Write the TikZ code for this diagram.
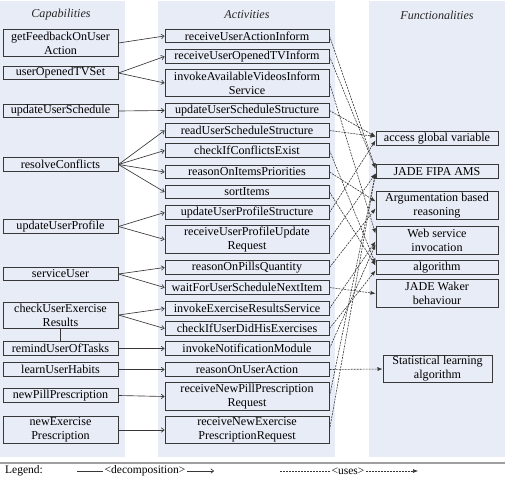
\documentclass[tikz,border=0pt]{standalone}
\usepackage{fontspec}
\setmainfont{Liberation Serif}
\usetikzlibrary{
	arrows.meta,
	positioning,
}
\definecolor{panel}{RGB}{232,236,246}
\definecolor{boxline}{RGB}{55,55,55}
\tikzset{default box/.style={
	draw=boxline,
	fill=panel,
	line width=1pt,
	inner sep=0pt,
	align=center,
	minimum height=13.5pt,
	font=\fontsize{12.1}{14}\selectfont,
	text=black,
}}

\begin{document}
\begin{tikzpicture}[
x=1pt, y=-1pt,
decomp/.style={draw=boxline, line width=0.65pt, -{To[length=3.5pt,width=5pt]}},
uses/.style={draw=boxline, line width=0.6pt, dash pattern=on 2pt off 1pt, -{Latex[length=5pt,width=4pt]}},
]
\useasboundingbox (0,0) rectangle (505,478);

\tikzset{
	capbox/.style={default box, minimum width=115pt},
	actbox/.style={default box, minimum width=164pt},
	funbox/.style={default box, minimum width=122pt},
	two/.style={minimum height=27.5pt},
	title/.style={font=\fontsize{12.1}{14}\selectfont\itshape, text=black!85},
	legend text/.style={font=\fontsize{11.5}{14}\selectfont, inner sep=1pt},
}

% column panels
\fill[panel] (0,1) rectangle (125,457);
\fill[panel] (158,1) rectangle (335,457);
\fill[panel] (369,1) rectangle (505,457);

\node(tcap)[title] at(61,15)	{Capabilities};
\node(tact)[title] at(247,15)	{Activities};
\node(tfun)[title] at(437,15)	{Functionalities};

\begin{scope}[every node/.style={capbox}]
\node(gf)[two]	at(60.5,43)		{getFeedbackOnUser\\Action};
\node(uotv)		at(60.5,73)		{userOpenedTVSet};
\node(uus)		at(60.5,111)	{updateUserSchedule};
\node(rc)		at(60.5,164.5)	{resolveConflicts};
\node(uup)		at(60.5,226.5)	{updateUserProfile};
\node(su)		at(60.5,274)	{serviceUser};
\node(cuer)[minimum height=26pt] at(60.5,315) {checkUserExercise\\Results};
\node(rmt)		at(60.5,348.5)	{remindUserOfTasks};
\node(luh)		at(60.5,369.5)	{learnUserHabits};
\node(npp)		at(60.5,395.5)	{newPillPrescription};
\node(nep)[two]	at(60.5,430)	{newExercise\\Prescription};
\end{scope}

\begin{scope}[every node/.style={actbox}]
\node(ruai)		at(247,36)		{receiveUserActionInform};
\node(ruotv)	at(247,56.5)	{receiveUserOpenedTVInform};
\node(iavis)[two] at(247,83)	{invokeAvailableVideosInform\\Service};
\node(uuss)		at(247,110.5)	{updateUserScheduleStructure};
\node(russ)		at(247,130.5)	{readUserScheduleStructure};
\node(cice)		at(247,150.5)	{checkIfConflictsExist};
\node(roip)		at(247,172)		{reasonOnItemsPriorities};
\node(si)		at(247,192)		{sortItems};
\node(upps)		at(247,212.5)	{updateUserProfileStructure};
\node(rupur)[two] at(247,239.5)	{receiveUserProfileUpdate\\Request};
\node(ropq)		at(247,267.5)	{reasonOnPillsQuantity};
\node(wfusni)	at(247,287.5)	{waitForUserScheduleNextItem};
\node(iers)		at(247,308.5)	{invokeExerciseResultsService};
\node(ciudhe)	at(247,328.5)	{checkIfUserDidHisExercises};
\node(inm)		at(247,348.5)	{invokeNotificationModule};
\node(roua)		at(247,369.5)	{reasonOnUserAction};
\node(rnppr)[two] at(247,396.5)	{receiveNewPillPrescription\\Request};
\node(rnepr)[two] at(247,430)	{receiveNewExercise\\PrescriptionRequest};
\end{scope}

\begin{scope}[every node/.style={funbox}]
\node(agv)		at(437,138.5)	{access global variable};
\node(jfa)		at(437,171.5)	{JADE FIPA AMS};
\node(abr)[two]	at(437,205.5)	{Argumentation based\\reasoning};
\node(wsi)[two]	at(437,240.5)	{Web service\\invocation};
\node(alg)		at(437,267.5)	{algorithm};
\node(jwb)[two]	at(437,293.5)	{JADE Waker\\behaviour};
\node(sla)[two, minimum width=109pt] at(437.5,369) {Statistical learning\\algorithm};
\end{scope}

% decomposition
\begin{scope}[decomp]
\draw (gf.east) to (ruai.west);
\draw (uotv.east) to (ruotv.west);
\draw (uotv.east) to (iavis.west);
\draw (uus.east) to (uuss.west);
\draw (rc.east) to (russ.west);
\draw (rc.east) to (cice.west);
\draw (rc.east) to (roip.west);
\draw (rc.east) to (si.west);
\draw (uup.east) to (upps.west);
\draw (uup.east) to (rupur.west);
\draw (su.east) to (ropq.west);
\draw (su.east) to (wfusni.west);
\draw (cuer.east) to (iers.west);
\draw (cuer.east) to (ciudhe.west);
\draw (rmt.east) to (inm.west);
\draw (luh.east) to (roua.west);
\draw (npp.east) to (rnppr.west);
\draw (nep.east) to (rnepr.west);
\end{scope}
\draw[boxline, line width=0.65pt] (cuer) -- (rmt);

% uses
\begin{scope}[uses]
\draw (ruai.east) to ([yshift=3pt]jfa.west);
\draw (ruotv.east) to ([yshift=3pt]jfa.west);
\draw (iavis.east) to ([yshift=7pt]wsi.west);
\draw (uuss.east) to ([yshift=2pt]agv.west);
\draw (russ.east) to ([yshift=2pt]agv.west);
\draw (cice.east) to ([yshift=4pt]alg.west);
\draw (roip.east) to ([yshift=4pt]abr.west);
\draw (si.east) to ([yshift=2pt]alg.west);
\draw (upps.east) to ([yshift=-2pt]agv.west);
\draw (rupur.east) to ([yshift=-2pt]jfa.west);
\draw (ropq.east) to ([yshift=-3pt]abr.west);
\draw (wfusni.east) to (jwb.west);
\draw (iers.east) to ([yshift=-1pt]wsi.west);
\draw (ciudhe.east) to ([yshift=-3pt]alg.west);
\draw (inm.east) to ([yshift=-4pt]wsi.west);
\draw (roua.east) to (sla.west);
\draw (rnppr.east) to ([yshift=-2pt]jfa.west);
\draw (rnepr.east) to ([yshift=-2pt]jfa.west);
\end{scope}

% legend
\draw[gray!75, line width=1.6pt] (0,463) -- (505,463);
\node(leg)[legend text, anchor=west] at(4,471) {Legend:};
\node(dec)[legend text] at(145,471) {<decomposition>};
\node(use)[legend text] at(348,471) {<uses>};
\coordinate(decA) at(77,471);
\coordinate(decB) at(214,471);
\coordinate(useA) at(280,471);
\coordinate(useB) at(418,471);
\draw[boxline, line width=0.65pt] (decA) -- (dec.west);
\draw[decomp] (dec.east) -- (decB);
\draw[uses, -] (useA) -- (use.west);
\draw[uses] (use.east) -- (useB);

\end{tikzpicture}
\end{document}
